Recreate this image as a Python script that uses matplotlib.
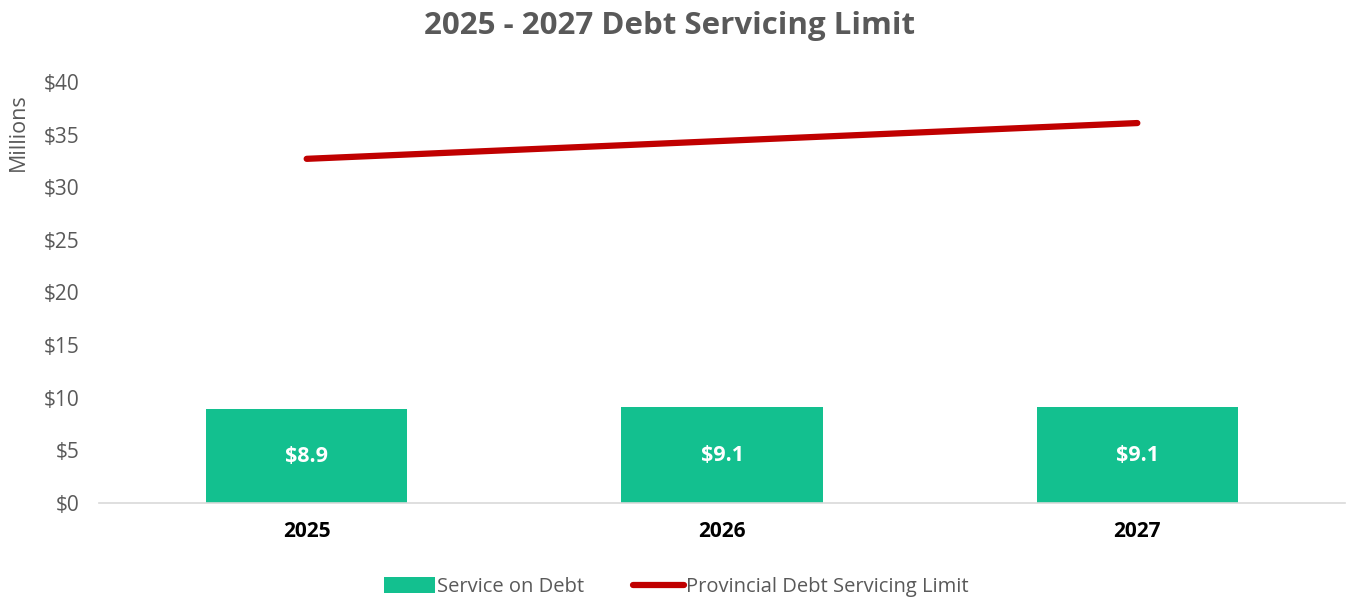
import matplotlib
matplotlib.use("Agg")
import matplotlib.pyplot as plt
from matplotlib.lines import Line2D
from matplotlib.patches import Patch

years = ["2025", "2026", "2027"]
service_on_debt = [8.9, 9.1, 9.1]
debt_limit = [32.7, 34.4, 36.1]
yticks = [0, 5, 10, 15, 20, 25, 30, 35, 40]

plt.rcParams['font.family'] = ['Open Sans', 'DejaVu Sans']
gray = "#595959"
green = "#13C08F"
red = "#C00000"

fig = plt.figure(figsize=(13.47, 5.99), dpi=100)
ax = fig.add_axes([99/1347, 1-503/599, (1345-99)/1347, (503-82)/599])

x = list(range(len(years)))
bars = ax.bar(x, service_on_debt, width=0.485, color=green, zorder=2)
for xi, v in zip(x, service_on_debt):
    ax.text(xi, v/2, f"${v:.1f}", ha="center", va="center", color="white",
            fontsize=15.5, fontweight="bold", zorder=3)
ax.plot(x, debt_limit, color=red, lw=4.5, solid_capstyle="round", zorder=3)

ax.set_xlim(-0.5, 2.5)
ax.set_ylim(0, 40)
ax.set_yticks(yticks)
ax.set_yticklabels([f"${t}" for t in yticks], color=gray, fontsize=15)
ax.set_xticks(x)
ax.set_xticklabels(years, fontsize=15, fontweight="bold", color="black")
ax.tick_params(axis="both", length=0)
ax.tick_params(axis="x", pad=13)
ax.tick_params(axis="y", pad=14)
for s in ["top", "right", "left"]:
    ax.spines[s].set_visible(False)
ax.spines["bottom"].set_color("#D9D9D9")
ax.spines["bottom"].set_linewidth(1.2)

fig.text(18/1347, 1-132/599, "Millions", rotation=90, ha="center", va="center",
         color=gray, fontsize=15.5)
fig.text(0.497, 1-26/599, "2025 - 2027 Debt Servicing Limit", ha="center", va="center",
         color=gray, fontsize=22.5, fontweight="bold")

handles = [Patch(facecolor=green, edgecolor="none"),
           Line2D([0], [0], color=red, lw=4.5, solid_capstyle="round")]
fig.legend(handles, ["Service on Debt", "Provincial Debt Servicing Limit"],
           loc="center", bbox_to_anchor=(0.502, 1-587/599), ncol=2, frameon=False,
           fontsize=14.5, labelcolor=gray, handlelength=2.55, handletextpad=0.1,
           columnspacing=2.4, handleheight=0.8)

fig.savefig("out.png", dpi=100)
